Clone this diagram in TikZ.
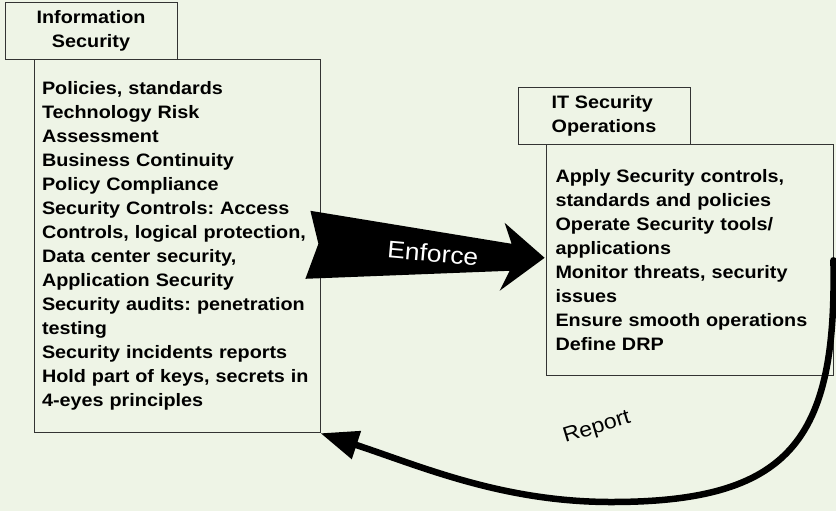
\documentclass[tikz,border=0pt]{standalone}
\usepackage{fontspec}
\setmainfont{Liberation Sans}[FakeStretch=1.1]
\frenchspacing
\usetikzlibrary{arrows.meta,calc}
\definecolor{paper}{HTML}{EEF4E6}
\tikzset{
  titlebox/.style = {
    draw=black!80, line width=0.8pt,
    minimum width=172pt, minimum height=57pt, inner sep=0pt,
    font=\fontsize{18}{24}\selectfont\bfseries
  },
  listbox/.style = {
    draw=black!80, line width=0.8pt, anchor=north west,
    align=left, inner ysep=0pt,
    font=\fontsize{18}{24}\selectfont\bfseries
  },
  flowlabel/.style = {font=\fontsize{21}{24}\selectfont}
}
\tikzset{>={Triangle[length=38pt,width=28pt]}}

\begin{document}
\begin{tikzpicture}[x=1pt,y=1pt]
  \fill[paper] (0,0) rectangle (836,511);
  \useasboundingbox (0,0) rectangle (836,511);
  % left side: information security
  \node[titlebox, align=center] (infotitle) at (91,480.5) {Information\\Security};
  \node[listbox, text width=270pt, inner xsep=8pt, minimum width=286pt, minimum height=373pt]
    (infolist) at ($(infotitle.south west)+(29,0)$)
    {Policies, standards\\
     Technology Risk\\
     Assessment\\
     Business Continuity\\
     Policy Compliance\\
     Security Controls: Access\\
     Controls, logical protection,\\
     Data center security,\\
     Application Security\\
     Security audits: penetration\\
     testing\\
     Security incidents reports\\
     Hold part of keys, secrets in\\
     4-eyes principles};
  % right side: it security operations
  \node[titlebox, align=left] (opstitle) at (604,395.5) {IT Security\\Operations};
  \node[listbox, text width=268pt, inner xsep=9.5pt, minimum width=287pt, minimum height=231pt]
    (opslist) at ($(opstitle.south west)+(28,0)$)
    {Apply Security controls,\\
     standards and policies\\
     Operate Security tools/\\
     applications\\
     Monitor threats, security\\
     issues\\
     Ensure smooth operations\\
     Define DRP};
  % enforce arrow
  \fill ($(infolist.east)+(-10,35.5)$) -- ($(infolist.east)+(-2,2.5)$)
     -- ($(infolist.east)+(-15,-32.5)$) -- ($(opslist.west)+(-36,-10.5)$)
     -- ($(opslist.west)+(-46,-30.5)$) -- ($(opslist.west)+(-1,2.5)$)
     -- ($(opslist.west)+(-41,37.5)$) -- ($(opslist.west)+(-34,16.5)$) -- cycle;
  \node[flowlabel, white, rotate=-5, font=\fontsize{24}{24}\selectfont] (enforce) at (433,258) {Enforce};
  % report arrow
  \draw[->, line width=6.5pt, line cap=round] (opslist.east)
     .. controls (837,70) and (790,8) .. (607,9)
     .. controls (500,10) and (420,45) .. (infolist.south east);
  \node[flowlabel, rotate=17] (report) at (597,83) {Report};
\end{tikzpicture}
\end{document}
